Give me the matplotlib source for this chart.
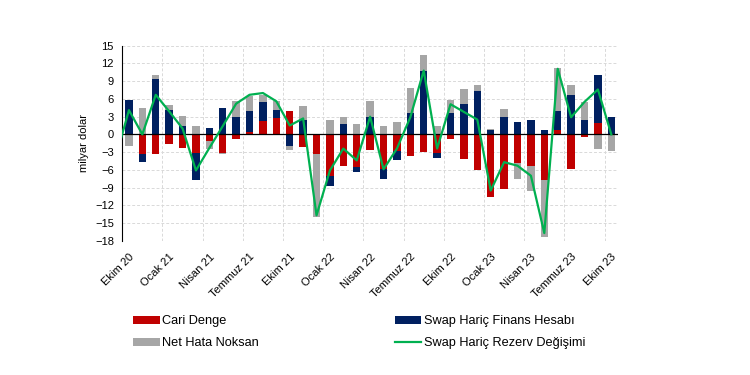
import numpy as np
import matplotlib
matplotlib.use("Agg")
import matplotlib.pyplot as plt

plt.rcParams['font.family'] = ['Liberation Sans', 'DejaVu Sans']

# aylar: Ekim 20 - Ekim 23
etiketler = ["Ekim 20", "Ocak 21", "Nisan 21", "Temmuz 21", "Ekim 21", "Ocak 22", "Nisan 22",
             "Temmuz 22", "Ekim 22", "Ocak 23", "Nisan 23", "Temmuz 23", "Ekim 23"]

cari = [0.0, -3.4, -3.3, -1.6, -2.3, -3.1, -1.1, -3.1, -0.7, 0.4, 2.2, 2.7, 4.0,
        -2.2, -3.3, -7.1, -5.4, -5.6, -2.6, -5.9, -2.8, -3.6, -2.9, -3.1, -0.8,
        -4.1, -6.1, -10.6, -9.2, -4.8, -5.4, -7.8, 0.7, -5.8, -0.5, 1.9, 0.0]
finans = [5.9, -1.2, 9.4, 4.2, 1.4, -4.7, 1.1, 4.5, 2.9, 3.5, 3.3, 1.4, -1.9,
          2.5, 0.0, -1.6, 1.7, -0.7, 3.0, -1.7, -1.5, 3.6, 10.8, -0.9, 3.6,
          5.2, 7.4, 0.7, 3.0, 2.1, 2.4, 0.7, 3.3, 6.7, 2.4, 8.2, 2.9]
net_hata = [-1.9, 4.5, 0.6, 0.8, 1.7, 1.5, -1.3, -0.2, 2.8, 2.6, 1.2, 1.5, -0.7,
            2.3, -10.6, 2.5, 1.2, 1.7, 2.7, 1.5, 2.1, 4.2, 2.7, 1.5, 2.3,
            2.4, 1.0, 0.2, 1.3, -2.7, -4.1, -9.6, 7.3, 1.7, 3.1, -2.4, -2.8]
# rezerv serisi Eylul 20'den basliyor (ilk deger grafigin kenarinda kesiliyor)
rezerv = [-4.0, 4.1, 0.0, 6.7, 3.9, 1.0, -6.1, -2.3, 1.4, 5.2, 6.7, 7.0, 5.6, 1.5,
          2.7, -13.7, -6.1, -2.4, -4.4, 3.0, -5.9, -2.4, 2.9, 10.8, -2.4, 5.1,
          3.8, 2.5, -9.5, -4.7, -5.3, -7.0, -16.7, 11.1, 2.9, 5.5, 7.6, 0.0]

renkler = ["#C00000", "#002060", "#A6A6A6"]

fig = plt.figure(figsize=(7.5, 3.75), dpi=100)
ax = fig.add_axes([0.163, 0.358, 0.661, 0.52])

x = np.arange(len(cari))
pos = np.zeros(len(x))
neg = np.zeros(len(x))
cubuklar = []
for seri, renk in zip([cari, finans, net_hata], renkler):
    v = np.array(seri)
    alt = np.where(v >= 0, pos, neg)
    b = ax.bar(x, v, 0.55, bottom=alt, color=renk, zorder=3)
    cubuklar.append(b)
    pos = pos + np.where(v >= 0, v, 0)
    neg = neg + np.where(v < 0, v, 0)

xr = np.arange(-1, len(cari))
cizgi, = ax.plot(xr, rezerv, color="#00B050", lw=1.6, zorder=4)

ax.axhline(0, color="black", lw=0.9, zorder=3)
ax.set_xlim(-0.5, len(cari) - 0.5)
ax.set_ylim(-18, 15)
ax.set_yticks(np.arange(-18, 16, 3))
ax.tick_params(axis="y", labelsize=8, length=0, pad=6)

ax.set_xticks(np.arange(0, len(cari), 3))
ax.set_xticklabels(etiketler, rotation=45, ha="right", rotation_mode="anchor", fontsize=8)
ax.tick_params(axis="x", length=0, pad=8)
ax.set_xticks(np.arange(2.5, len(cari), 3), minor=True)
ax.tick_params(axis="x", which="minor", length=0)

ax.grid(axis="y", which="major", color="#D9D9D9", ls=(0, (3, 2)), lw=0.7, zorder=0)
ax.grid(axis="x", which="minor", color="#D9D9D9", ls=(0, (3, 2)), lw=0.7, zorder=0)

for s in ["top", "right", "bottom"]:
    ax.spines[s].set_visible(False)
ax.spines["left"].set_color("black")
ax.set_ylabel("milyar dolar", fontsize=8, labelpad=4)

fig.legend([cubuklar[0], cubuklar[2], cubuklar[1], cizgi],
           ["Cari Denge", "Net Hata Noksan", "Swap Hariç Finans Hesabı", "Swap Hariç Rezerv Değişimi"],
           ncol=2, loc="upper left", bbox_to_anchor=(0.162, 0.19), frameon=False,
           fontsize=9.2, columnspacing=10.6, handlelength=2.1, handleheight=0.6,
           handletextpad=0.2, labelspacing=0.8)

fig.savefig("out.png")
